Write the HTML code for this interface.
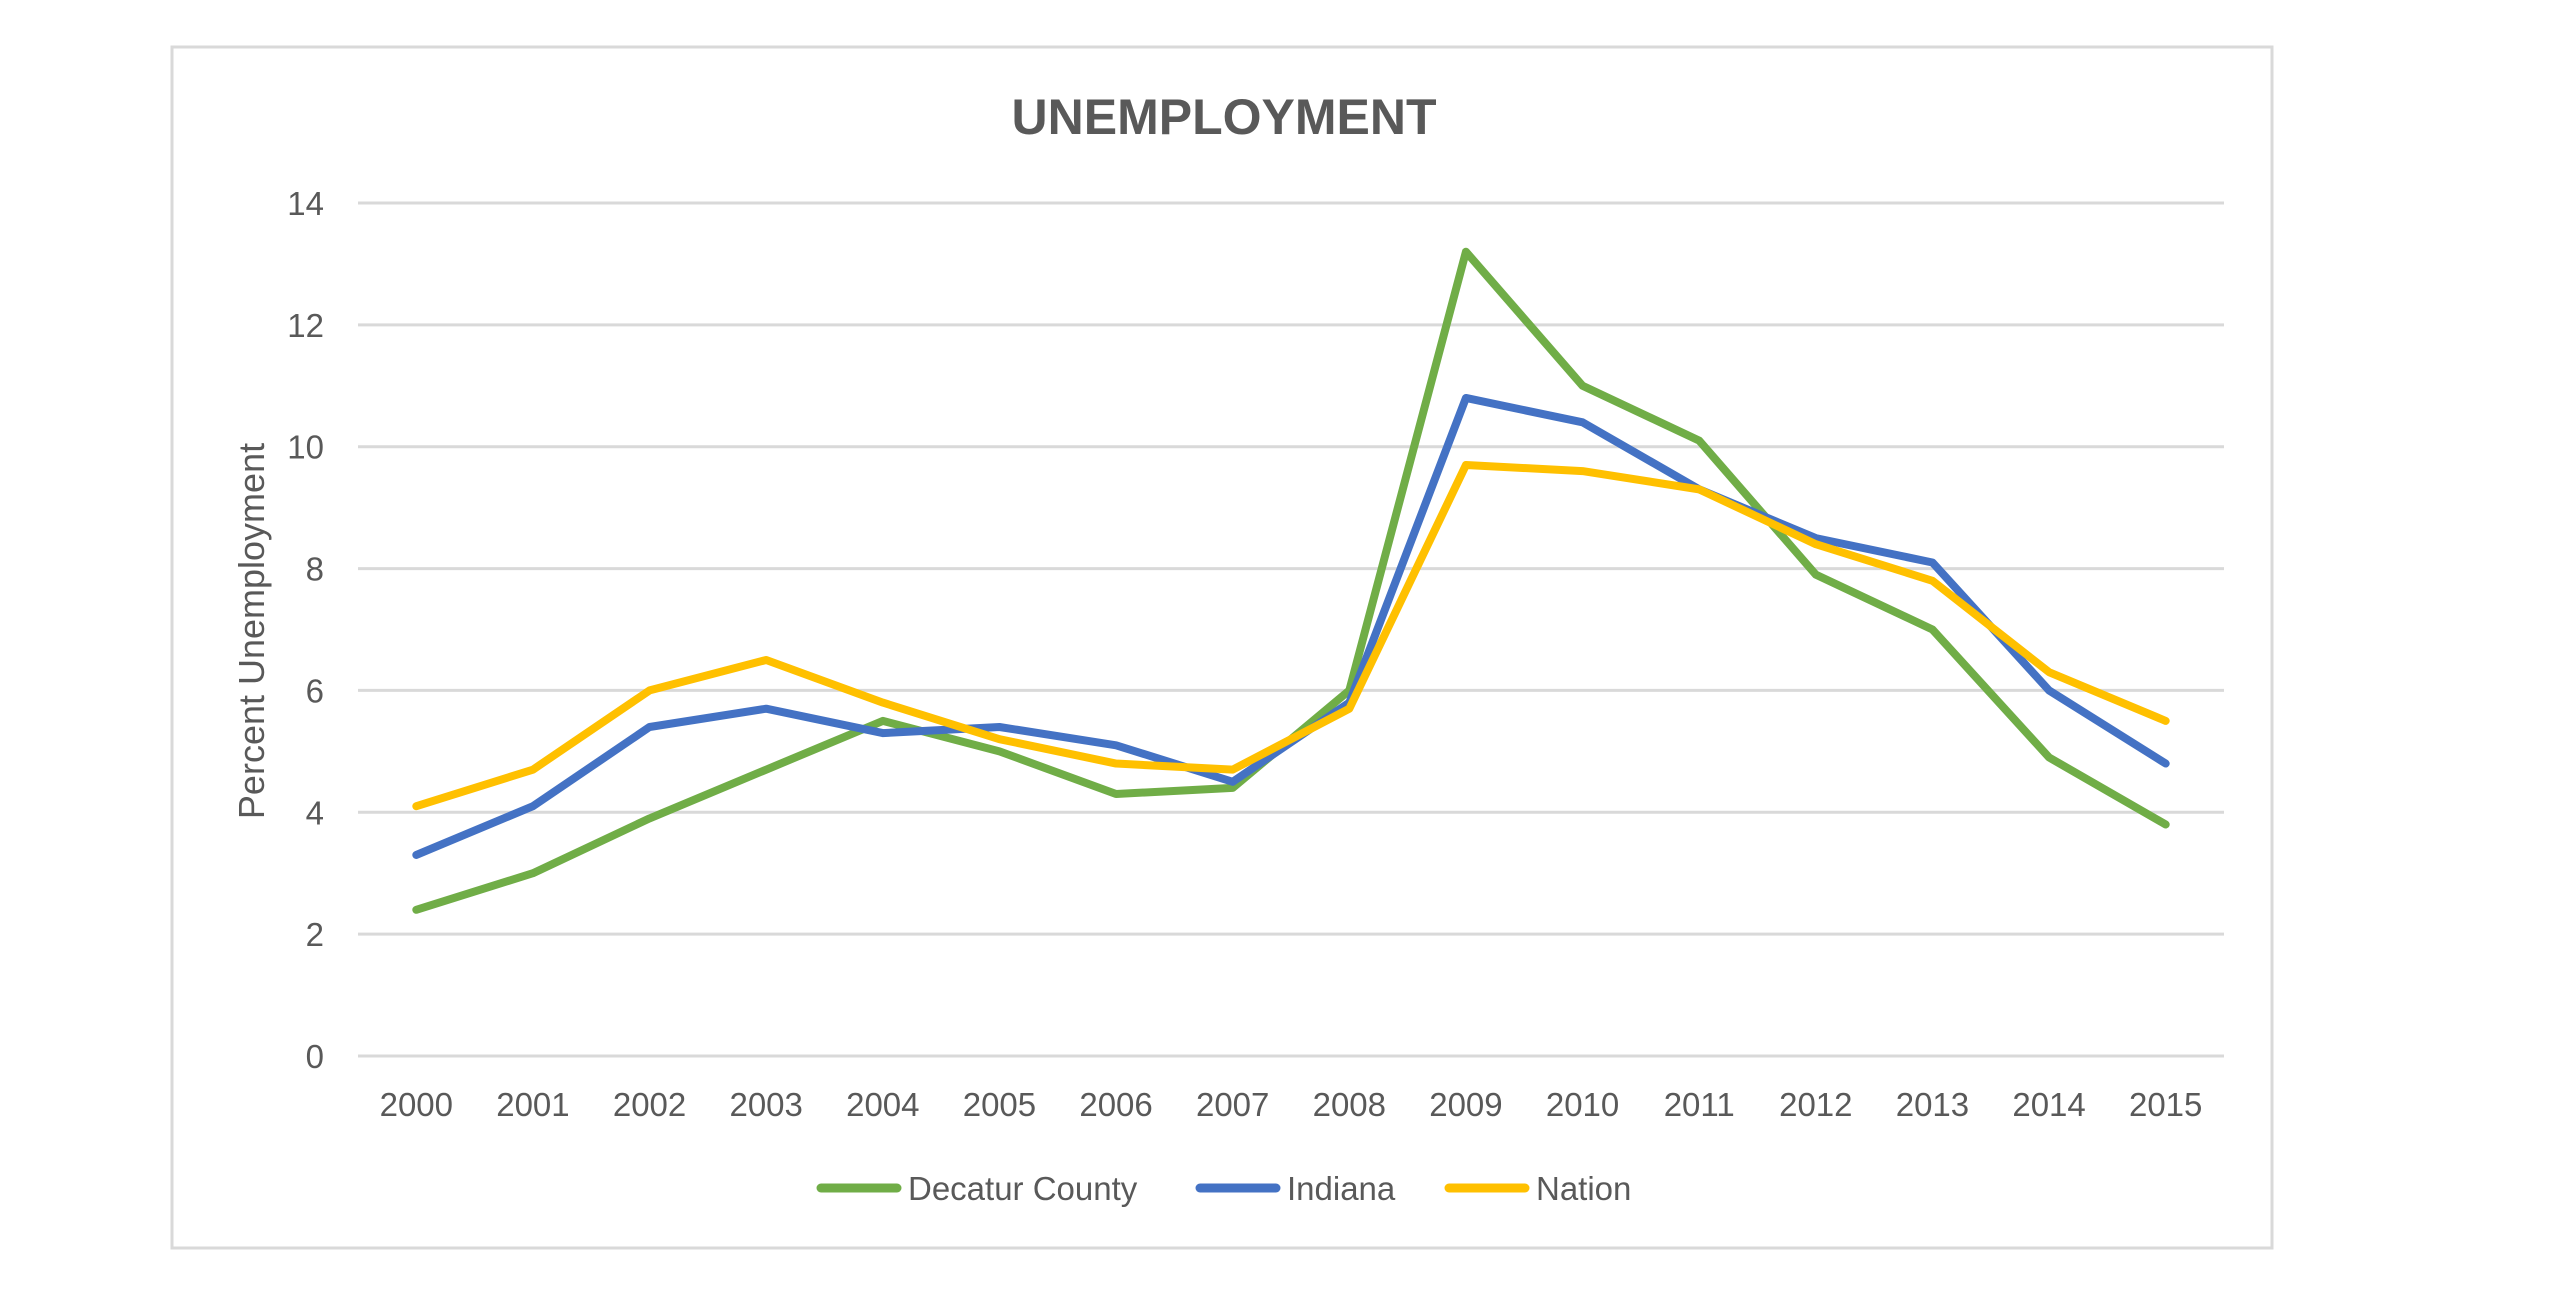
<!DOCTYPE html>
<html><head><meta charset="utf-8"><style>
html,body{margin:0;padding:0;background:#fff;}
svg{display:block;font-family:"Liberation Sans",sans-serif;}
</style></head><body>
<svg id="chart" width="2550" height="1289" viewBox="0 0 2550 1289">
<rect x="172" y="47" width="2100" height="1201" fill="#fff" stroke="#d9d9d9" stroke-width="3"/>
<text x="1224" y="134" text-anchor="middle" font-size="50" font-weight="bold" fill="#595959">UNEMPLOYMENT</text>
<text transform="translate(264,631) rotate(-90)" text-anchor="middle" font-size="36" fill="#595959">Percent Unemployment</text>
<g id="grid"></g><g id="yticks"></g><g id="xticks"></g><g id="series"></g><g id="legend"></g>
</svg>
<script>
const years=["2000","2001","2002","2003","2004","2005","2006","2007","2008","2009","2010","2011","2012","2013","2014","2015"];
const decatur=[2.4,3.0,3.9,4.7,5.5,5.0,4.3,4.4,6.0,13.2,11.0,10.1,7.9,7.0,4.9,3.8];
const indiana=[3.3,4.1,5.4,5.7,5.3,5.4,5.1,4.5,5.8,10.8,10.4,9.3,8.5,8.1,6.0,4.8];
const nation=[4.1,4.7,6.0,6.5,5.8,5.2,4.8,4.7,5.7,9.7,9.6,9.3,8.4,7.8,6.3,5.5];
const yTicks=[0,2,4,6,8,10,12,14];
const seriesNames=["Decatur County","Indiana","Nation"];
const NS="http://www.w3.org/2000/svg";
const X0=358,X1=2224,Y0=1056,Y14=203;
const band=(X1-X0)/years.length;
function xs(i){return X0+band*(i+0.5);}
function ys(v){return Y0-(v/14)*(Y0-Y14);}
function mk(tag,attrs,parent){const e=document.createElementNS(NS,tag);for(const k in attrs)e.setAttribute(k,attrs[k]);parent.appendChild(e);return e;}
const grid=document.getElementById('grid'),yt=document.getElementById('yticks'),xt=document.getElementById('xticks'),sg=document.getElementById('series'),lg=document.getElementById('legend');
yTicks.forEach(t=>{
  const l=mk('line',{x1:X0,x2:X1,y1:ys(t),y2:ys(t),stroke:'#d9d9d9','stroke-width':3},grid);
  
  
  const tx=mk('text',{x:324,y:ys(t)+12,'text-anchor':'end','font-size':33,fill:'#595959'},yt);
  tx.textContent=t;
  
  
});
years.forEach((y,i)=>{
  const tx=mk('text',{x:xs(i),y:1116,'text-anchor':'middle','font-size':33,fill:'#595959'},xt);
  tx.textContent=y;
  
  
});
const colors=["#70ad47","#4472c4","#ffc000"];
[decatur,indiana,nation].forEach((d,s)=>{
  const pts=d.map((v,i)=>xs(i)+','+ys(v)).join(' ');
  const p=mk('polyline',{points:pts,fill:'none',stroke:colors[s],'stroke-width':8,'stroke-linejoin':'round','stroke-linecap':'round'},sg);
  
  
});
const legX=[817,1196,1445];
seriesNames.forEach((n,s)=>{
  const l=mk('line',{x1:legX[s]+4,x2:legX[s]+80,y1:1188,y2:1188,stroke:colors[s],'stroke-width':9,'stroke-linecap':'round'},lg);
  
  
  const t=mk('text',{x:legX[s]+91,y:1200,'font-size':33,fill:'#595959'},lg);
  t.textContent=n;
  
  
});
</script>
</body></html>
